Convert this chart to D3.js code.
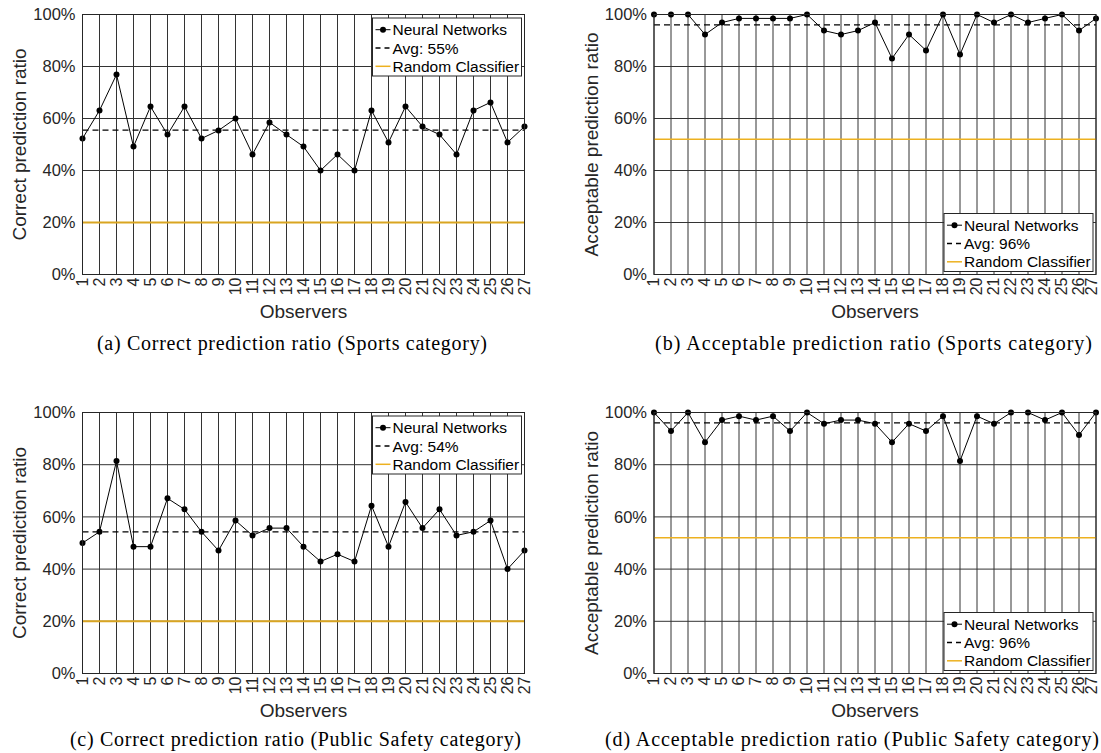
<!DOCTYPE html>
<html><head><meta charset="utf-8">
<script src="https://cdn.jsdelivr.net/npm/d3@7"></script>
<style>body{margin:0;background:#fff}svg{display:block}</style>
</head><body>
<svg id="chart" width="1101" height="753"></svg>
<script>
// ---------- data ----------
const observers = [1,2,3,4,5,6,7,8,9,10,11,12,13,14,15,16,17,18,19,20,21,22,23,24,25,26,27];
const observerLabels = ["1","2","3","4","5","6","7","8","9","10","11","12","13","14","15","16","17","18","19","20","21","22","23","24","25","26","27"];
const sportsCorrect    = [52.3,63.1,76.9,49.2,64.6,53.8,64.6,52.3,55.4,60.0,46.2,58.5,53.8,49.2,40.0,46.2,40.0,63.1,50.8,64.6,56.9,53.8,46.2,63.1,66.2,50.8,56.9];
const sportsAcceptable = [100,100,100,92.3,96.9,98.5,98.5,98.5,98.5,100,93.8,92.3,93.8,96.9,83.1,92.3,86.2,100,84.6,100,96.9,100,96.9,98.5,100,93.8,98.5];
const safetyCorrect    = [50.0,54.3,81.4,48.6,48.6,67.1,62.9,54.3,47.1,58.6,52.9,55.7,55.7,48.6,42.9,45.7,42.9,64.3,48.6,65.7,55.7,62.9,52.9,54.3,58.6,40.0,47.1];
const safetyAcceptable = [100,92.9,100,88.6,97.1,98.6,97.1,98.6,92.9,100,95.7,97.1,97.1,95.7,88.6,95.7,92.9,98.6,81.4,98.6,95.7,100,100,97.1,100,91.4,100];
const averages = [55.5, 96.0, 54.3, 96.0];
const avgLabels = ["Avg: 55%", "Avg: 96%", "Avg: 54%", "Avg: 96%"];
const randomBaseline = [20, 52, 20, 52];
const yTicks = [0, 20, 40, 60, 80, 100];
const yTickLabels = ["0%", "20%", "40%", "60%", "80%", "100%"];
const yTitles = ["Correct prediction ratio", "Acceptable prediction ratio", "Correct prediction ratio", "Acceptable prediction ratio"];
const xTitle = "Observers";
const seriesNames = ["Neural Networks", "Random Classifier"];
const captions = [
  "(a) Correct prediction ratio (Sports category)",
  "(b) Acceptable prediction ratio (Sports category)",
  "(c) Correct prediction ratio (Public Safety category)",
  "(d) Acceptable prediction ratio (Public Safety category)"
];
const seriesData = [sportsCorrect, sportsAcceptable, safetyCorrect, safetyAcceptable];

// ---------- layout / style ----------
const W = 1101;
const panels = [
  {x0: 82.5, x1: 524.5, y0: 274.5, y1: 14.5, legend: "top",    capX: 292,   capW: 390, capY: 350, rc: "#D9A521", rw: 2},
  {x0: 654,  x1: 1096,  y0: 274.5, y1: 14.5, legend: "bottom", capX: 873.5, capW: 437, capY: 350, rc: "#EDB120", rw: 1.4},
  {x0: 82.5, x1: 524.5, y0: 673.5, y1: 412.5, legend: "top",   capX: 295.5, capW: 451, capY: 746, rc: "#D9A521", rw: 2},
  {x0: 654,  x1: 1096,  y0: 673.5, y1: 412.5, legend: "bottom", capX: 852,  capW: 494, capY: 746, rc: "#EDB120", rw: 1.4}
];
const FONT = "'Liberation Sans', Arial, Helvetica, sans-serif";
const SERIF = "'Liberation Serif', 'Times New Roman', serif";
const svg = d3.select("#chart");

panels.forEach((p, i) => {
  const vals = seriesData[i];
  const x = d3.scaleLinear().domain([observers[0], observers[observers.length - 1]]).range([p.x0, p.x1]);
  const y = d3.scaleLinear().domain([0, 100]).range([p.y0, p.y1]);
  const g = svg.append("g");

  // grid
  g.selectAll("line.vg").data(observers).join("line").attr("class", "vg")
    .attr("x1", d => x(d)).attr("x2", d => x(d)).attr("y1", p.y0).attr("y2", p.y1)
    .attr("stroke", "#333").attr("stroke-width", 1);
  g.selectAll("line.hg").data(yTicks).join("line").attr("class", "hg")
    .attr("x1", p.x0).attr("x2", p.x1).attr("y1", d => y(d)).attr("y2", d => y(d))
    .attr("stroke", "#333").attr("stroke-width", 1);

  // random classifier
  g.append("line").attr("x1", p.x0).attr("x2", p.x1)
    .attr("y1", y(randomBaseline[i])).attr("y2", y(randomBaseline[i]))
    .attr("stroke", p.rc).attr("stroke-width", p.rw);

  // average
  g.append("line").attr("x1", p.x0).attr("x2", p.x1)
    .attr("y1", y(averages[i])).attr("y2", y(averages[i]))
    .attr("stroke", "#000").attr("stroke-width", 1.3).attr("stroke-dasharray", "6,4");

  // NN series
  const line = d3.line().x((d, k) => x(observers[k])).y(d => y(d));
  g.append("path").datum(vals).attr("d", line).attr("fill", "none")
    .attr("stroke", "#000").attr("stroke-width", 1);
  g.selectAll("circle.pt").data(vals).join("circle").attr("class", "pt")
    .attr("cx", (d, k) => x(observers[k])).attr("cy", d => y(d)).attr("r", 3).attr("fill", "#000");

  // axes box
  g.append("rect").attr("x", p.x0).attr("y", p.y1).attr("width", p.x1 - p.x0).attr("height", p.y0 - p.y1)
    .attr("fill", "none").attr("stroke", "#262626").attr("stroke-width", 1);

  // y axis
  const ya = g.append("g").attr("transform", `translate(${p.x0},0)`)
    .call(d3.axisLeft(y).tickValues(yTicks).tickFormat((d, k) => yTickLabels[k]).tickSize(0).tickPadding(7));
  ya.select(".domain").remove();
  ya.selectAll("text").attr("font-family", FONT).attr("font-size", 16.5).attr("fill", "#262626");

  // x axis
  const xa = g.append("g").attr("transform", `translate(0,${p.y0})`)
    .call(d3.axisBottom(x).tickValues(observers).tickFormat((d, k) => observerLabels[k]).tickSize(0));
  xa.select(".domain").remove();
  xa.selectAll("text").attr("font-family", FONT).attr("font-size", 16).attr("fill", "#262626")
    .attr("transform", "rotate(-90)").attr("text-anchor", "end")
    .attr("y", 0).attr("x", -3)
    .attr("dy", d => (x(d) + 8 > W ? "0.05em" : "0.3em"));

  // titles
  svg.append("text").attr("transform", `translate(${p.x0 - 63},${(p.y0 + p.y1) / 2}) rotate(-90)`)
    .attr("text-anchor", "middle").attr("dominant-baseline", "central")
    .attr("font-family", FONT).attr("font-size", 19).attr("fill", "#262626").text(yTitles[i]);
  svg.append("text").attr("x", (p.x0 + p.x1) / 2).attr("y", p.y0 + 37)
    .attr("text-anchor", "middle").attr("dominant-baseline", "central")
    .attr("font-family", FONT).attr("font-size", 19).attr("fill", "#262626").text(xTitle);

  // legend
  const lw = 149, lh = 58;
  const lx = p.x1 - 3 - lw;
  const ly = p.legend === "top" ? p.y1 + 3.5 : p.y0 - 3 - lh;
  const lg = svg.append("g").attr("transform", `translate(${lx},${ly})`);
  lg.append("rect").attr("width", lw).attr("height", lh).attr("fill", "#fff")
    .attr("stroke", "#262626").attr("stroke-width", 1);
  const rows = [
    {label: seriesNames[0], type: "nn"},
    {label: avgLabels[i], type: "avg"},
    {label: seriesNames[1], type: "rand"}
  ];
  rows.forEach((r, k) => {
    const cy = 11.7 + k * 18.3;
    const ln = lg.append("line").attr("x1", 3).attr("x2", 18).attr("y1", cy).attr("y2", cy);
    if (r.type === "nn") {
      ln.attr("stroke", "#000").attr("stroke-width", 1);
      lg.append("circle").attr("cx", 10.5).attr("cy", cy).attr("r", 3).attr("fill", "#000");
    } else if (r.type === "avg") {
      ln.attr("stroke", "#000").attr("stroke-width", 1.3).attr("stroke-dasharray", "5,4");
    } else {
      ln.attr("stroke", "#EDB120").attr("stroke-width", 1.5);
    }
    lg.append("text").attr("x", 20).attr("y", cy).attr("dominant-baseline", "central")
      .attr("font-family", FONT).attr("font-size", 15.5).attr("fill", "#000").text(r.label);
  });

  // caption
  svg.append("text").attr("x", p.capX).attr("y", p.capY).attr("text-anchor", "middle")
    .attr("font-family", SERIF).attr("font-size", 20).attr("fill", "#000")
    .attr("textLength", p.capW).attr("lengthAdjust", "spacing").text(captions[i]);
});
</script>
</body></html>
